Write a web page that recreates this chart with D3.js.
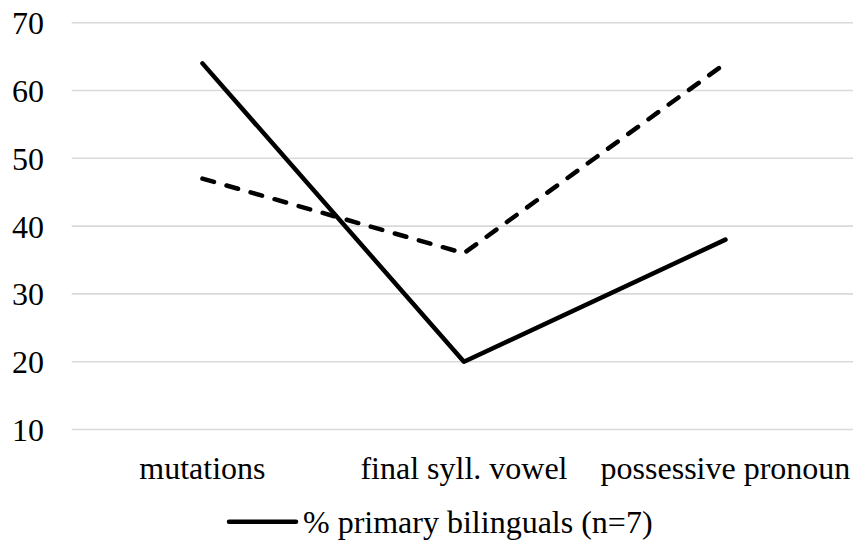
<!DOCTYPE html>
<html>
<head>
<meta charset="utf-8">
<script src="https://cdn.jsdelivr.net/npm/d3@7"></script>
<style>
  html, body { margin: 0; padding: 0; background: #fff; overflow: hidden; }
  svg { display: block; }
  svg text { font-family: "Liberation Serif", "Times New Roman", Times, "Nimbus Roman", "DejaVu Serif", serif; font-size: 32px; fill: #000; }
</style>
</head>
<body>
<svg id="chart" width="853" height="541"></svg>
<script>
const categories = ["mutations", "final syll. vowel", "possessive pronoun"];
const primaryBilinguals = [64, 20, 38];
const otherSeries = [47, 36, 64];
const yTicks = [10, 20, 30, 40, 50, 60, 70];
const legendLabel = "% primary bilinguals (n=7)";

const svg = d3.select("#chart");

const x = d3.scaleBand().domain(categories).range([71.7, 856.2]);
const y = d3.scaleLinear().domain([10, 70]).range([429.5, 22.7]);
const cx = d => x(d) + x.bandwidth() / 2;

// gridlines
svg.append("g").selectAll("line").data(yTicks).join("line")
  .attr("x1", 71.7).attr("x2", 856.2)
  .attr("y1", d => y(d)).attr("y2", d => y(d))
  .attr("stroke", "#d9d9d9").attr("stroke-width", 1.6);

// y labels
svg.append("g").selectAll("text").data(yTicks).join("text")
  .attr("x", 44).attr("y", d => y(d) + 11.5)
  .attr("text-anchor", "end")
  .text(d => d);

// category labels
svg.append("g").selectAll("text").data(categories).join("text")
  .attr("x", d => cx(d)).attr("y", 479)
  .attr("text-anchor", "middle")
  .text(d => d);

const line = d3.line().x((d, i) => cx(categories[i])).y(d => y(d));

svg.append("path").datum(otherSeries)
  .attr("d", line).attr("fill", "none")
  .attr("stroke", "#000").attr("stroke-width", 4.5)
  .attr("stroke-dasharray", "12,13")
  .attr("stroke-linecap", "round").attr("stroke-linejoin", "round");

svg.append("path").datum(primaryBilinguals)
  .attr("d", line).attr("fill", "none")
  .attr("stroke", "#000").attr("stroke-width", 4.5)
  .attr("stroke-linecap", "round").attr("stroke-linejoin", "round");

// legend
const lg = svg.append("g");
lg.append("line").attr("x1", 229).attr("x2", 296).attr("y1", 521.7).attr("y2", 521.7)
  .attr("stroke", "#000").attr("stroke-width", 4.5).attr("stroke-linecap", "round");
lg.append("text").attr("x", 303).attr("y", 533)
  .text(legendLabel);
</script>
</body>
</html>
